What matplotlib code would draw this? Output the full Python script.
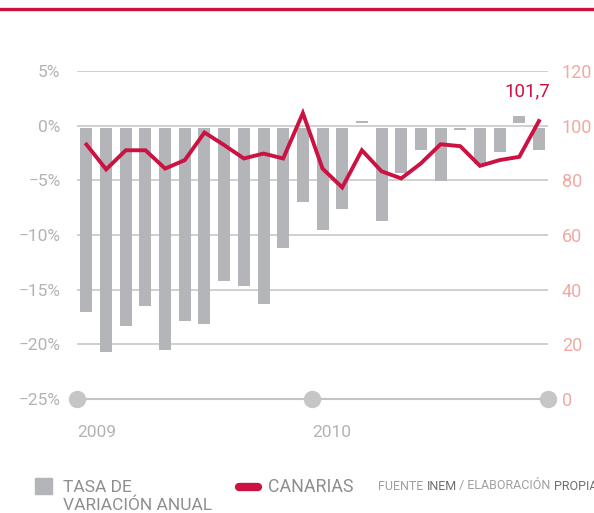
import numpy as np
import matplotlib
matplotlib.use('Agg')
import matplotlib.pyplot as plt
from matplotlib.patches import Rectangle
from matplotlib.lines import Line2D

plt.rcParams['font.family'] = ['Roboto', 'DejaVu Sans']

# tasa de variacion anual (%) - barras
tasa = [-17.0, -20.7, -18.3, -16.5, -20.5, -17.9, -18.1, -14.2, -14.7, -16.3, -11.2, -7.0,
        -9.5, -7.6, 0.4, -8.7, -4.3, -2.2, -5.1, -0.4, -3.5, -2.4, 0.85, -2.2]
# canarias (indice) - linea
canarias = [93.1, 84.0, 91.0, 91.0, 84.3, 87.4, 97.5, 92.9, 88.0, 89.8, 88.0, 104.6,
            84.3, 77.4, 91.0, 83.3, 80.7, 86.2, 93.2, 92.5, 85.3, 87.4, 88.6, 101.7]
left_ticks = [5, 0, -5, -10, -15, -20, -25]
right_ticks = [120, 100, 80, 60, 40, 20, 0]
years = ['2009', '2010']
year_pos = [-0.48, 11.47, 23.46]

red = '#cc1243'
bar_grey = '#b4b5b9'
grid_grey = '#c4c4c4'
W, H = 594, 513

fig = plt.figure(figsize=(W / 100, H / 100), dpi=100)
ax = fig.add_axes([77 / W, 1 - 399 / H, (548 - 77) / W, (399 - 71) / H])
x = np.arange(len(tasa))
vals = np.array(tasa)
base = np.sign(vals) * 0.25  # pequeno hueco bajo la linea del cero
ax.bar(x, vals - base, bottom=base, width=0.61, color=bar_grey, zorder=2)
ax.set_xlim(-0.48, 23.46)
ax.set_ylim(-25, 5)
ax.set_yticks(left_ticks)
ax.set_yticklabels([('−' if v < 0 else '') + f'{abs(v)}%' for v in left_ticks])
for v in left_ticks[:-1]:
    ax.axhline(v, color=grid_grey, lw=1.1, zorder=1)
ax.tick_params(axis='y', length=0, pad=12, labelsize=12.5, labelcolor='#b3b3b3')
ax.set_xticks([])
for s in ax.spines.values():
    s.set_visible(False)

# linea de tiempo inferior
ax.plot([year_pos[0], year_pos[-1]], [-25, -25], color=grid_grey, lw=1.5, clip_on=False, zorder=3)
ax.plot(year_pos, [-25] * 3, 'o', ms=11.5, color='#c6c6c8', clip_on=False, zorder=4)
for p, yr in zip(year_pos, years):
    ax.text(p, -28.1, yr, ha='left', va='center', fontsize=12.5, color='#b3b3b3')

ax2 = ax.twinx()
ax2.plot(x, canarias, color=red, lw=2.8, solid_joinstyle='miter', zorder=5)
ax2.set_ylim(0, 120)
ax2.set_yticks(right_ticks)
ax2.tick_params(axis='y', length=0, pad=10, labelsize=13, labelcolor='#f0aaa3')
for s in ax2.spines.values():
    s.set_visible(False)
ax2.text(x[-1] - 0.6, canarias[-1] + 7.5, '101,7', ha='center', va='bottom',
         fontsize=13.5, color=red)

# linea roja superior
fig.add_artist(Line2D([0, 1], [1 - 8.5 / H] * 2, color=red, lw=2.4))

# leyenda
fig.add_artist(Rectangle((35 / W, 1 - 494 / H), 17 / W, 16 / H, color=bar_grey))
fig.text(63 / W, 1 - 487 / H, 'TASA DE', fontsize=12.5, color='#8e8e8e', va='center')
fig.text(63 / W, 1 - 505 / H, 'VARIACIÓN ANUAL', fontsize=12.5, color='#8e8e8e', va='center')
fig.add_artist(Line2D([239 / W, 258 / W], [1 - 487 / H] * 2, color=red, lw=6,
                      solid_capstyle='round'))
fig.text(268 / W, 1 - 487 / H, 'CANARIAS', fontsize=12.8, color='#8e8e8e', va='center')
t = fig.text(378 / W, 1 - 486 / H, 'FUENTE ', fontsize=9, color='#a0a0a0', va='center')
parts = [('INEM', '#6e6e6e'), (' / ELABORACIÓN ', '#a0a0a0'), ('PROPIA', '#6e6e6e')]
fig.canvas.draw()
r = fig.canvas.get_renderer()
xpos = 378
for txt, col in parts:
    xpos += t.get_window_extent(r).width
    t = fig.text(xpos / W, 1 - 486 / H, txt, fontsize=9, color=col, va='center')

fig.savefig('out.png', dpi=100)
